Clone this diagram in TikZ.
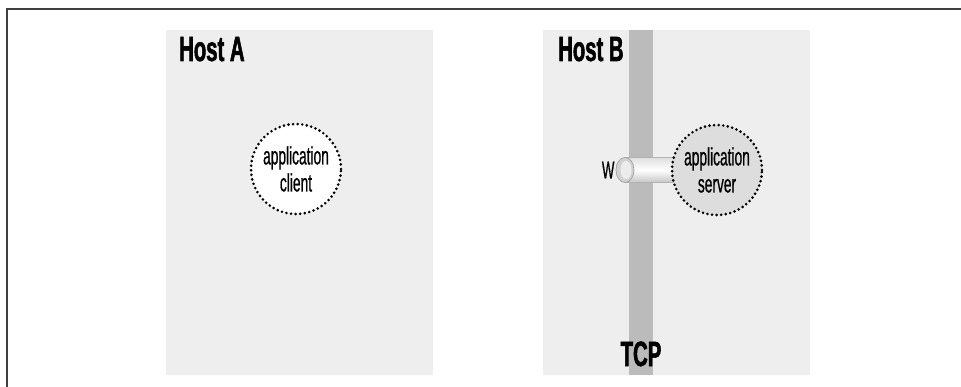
\documentclass[tikz,border=0pt]{standalone}
\usepackage{fontspec}
\setmainfont{Liberation Sans}
\newfontfamily\hostfont[FakeStretch=0.58, FakeBold=1.5]{Liberation Sans}
\newfontfamily\appfont[FakeStretch=0.55, FakeBold=0.6]{Liberation Sans}
\usetikzlibrary{shapes.geometric}
\definecolor{hostgray}{HTML}{EEEEEE}
\definecolor{tcpgray}{HTML}{BBBBBB}
\definecolor{servgray}{HTML}{DDDDDD}

\begin{document}
\begin{tikzpicture}[x=1pt, y=-1pt]
				\tikzstyle{every node}=[inner sep=1pt, align=center]
				\tikzstyle{host}=[rectangle, fill=hostgray, minimum width=267pt, minimum height=345pt, inner sep=0pt]
				\tikzstyle{hostlabel}=[font=\hostfont\bfseries\fontsize{35}{36}\selectfont, anchor=base west]
				\tikzstyle{app}=[circle, draw, line width=2.9pt, line cap=round, dash pattern=on 0pt off 4.6pt, minimum size=90pt, inner sep=0pt, font=\appfont\fontsize{25}{27}\selectfont]
				\useasboundingbox (0,0) rectangle (961,387);
				% frame
				\draw [line width=2.5pt, black!75] (961,9) -- (7,9) -- (7,390);
				% hosts
				\node [host] (hostA) at (299.5,202.5) {};
				\node [host] (hostB) at (676.5,202.5) {};
				\node [hostlabel] (labelA) at (178,61) {Host A};
				\node [hostlabel] (labelB) at (557,61) {Host B};
				% tcp layer
				\node [rectangle, fill=tcpgray, minimum width=24pt, minimum height=345pt, inner sep=0pt] (tcp) at (641,202.5) {};
				\node [font=\hostfont\bfseries\fontsize{35}{36}\selectfont, anchor=base] (tcplabel) at (641,366) {TCP};
				% socket
				\shade [top color=gray!25, bottom color=gray!45, middle color=white] (625,157.5) rectangle (680,182.5);
				\draw [gray!60, line width=0.6pt] (625,157.5) -- (680,157.5) (625,182.5) -- (680,182.5);
				\node [ellipse, draw=gray!70, line width=0.8pt, fill=gray!35, minimum width=18pt, minimum height=25pt, inner sep=0pt] (W) at (625,170) {};
				\node [ellipse, fill=gray!15, minimum width=11pt, minimum height=18pt, inner sep=0pt] at (626,170) {};
				\node [font=\appfont\fontsize{24}{24}\selectfont, anchor=east] (Wlabel) at (W.west) {W};
				% applications
				\node [app, fill=white] (client) at (296,169) {application\\client};
				\node [app, fill=servgray] (server) at (717,170) {application\\server};
		\end{tikzpicture}
\end{document}
